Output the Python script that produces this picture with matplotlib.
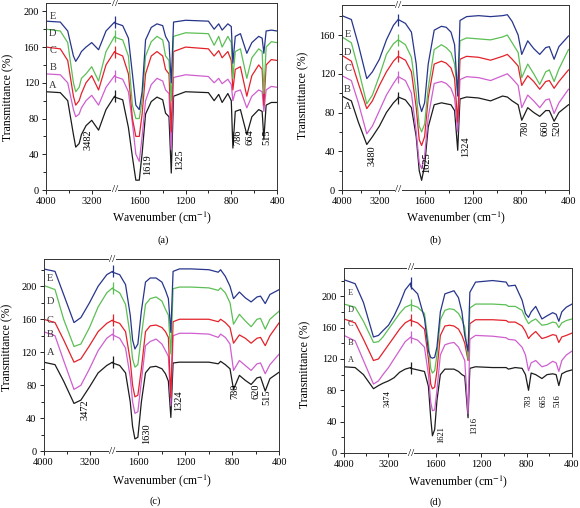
import numpy as np
import matplotlib.pyplot as plt
from matplotlib import transforms

plt.rcParams['font.family'] = 'Liberation Serif'
plt.rcParams['mathtext.fontset'] = 'stix'

names = ['A', 'B', 'C', 'D', 'E']
colors = ['#1c1c1c', '#cf5fcf', '#e3222b', '#5cbf55', '#27358c']

# ---- panel (a) ----
wn_a = [4000, 3750, 3620, 3520, 3480, 3420, 3380, 3300, 3200, 3080, 2950, 2800,
        1820, 1750, 1700, 1665, 1635, 1605, 1580, 1550, 1500, 1450, 1400, 1375, 1345, 1325, 1305,
        1200, 1000, 950, 910, 880, 830, 800, 786, 765, 720, 664, 620, 560, 530, 515, 495, 450, 400]
a_A = [110, 109, 100, 62, 48, 52, 62, 72, 78, 67, 90, 105,
       104, 101, 70, 37, 11, 11, 41, 85, 99, 104, 101, 86, 82, 19, 105,
       110, 109, 100, 107, 98, 108, 100, 47, 88, 90, 62, 82, 90, 88, 57, 95, 98, 98]
a_B = [130, 129, 120, 90, 82, 85, 92, 100, 106, 95, 115, 128,
       127, 124, 110, 75, 40, 32, 60, 100, 118, 125, 122, 112, 108, 45, 126,
       129, 127, 120, 125, 119, 124, 118, 100, 110, 112, 92, 105, 112, 110, 88, 112, 116, 115]
a_C = [160, 158, 145, 105, 95, 100, 108, 120, 128, 112, 140, 155,
       154, 150, 130, 80, 60, 60, 85, 130, 150, 155, 150, 135, 130, 65, 155,
       160, 158, 150, 156, 148, 155, 145, 112, 135, 138, 105, 128, 140, 135, 95, 140, 146, 145]
a_D = [180, 178, 165, 120, 110, 115, 125, 130, 138, 122, 155, 172,
       171, 168, 150, 95, 80, 80, 100, 150, 166, 172, 168, 150, 145, 100, 172,
       176, 175, 162, 172, 160, 172, 165, 125, 155, 158, 125, 148, 158, 155, 108, 160, 166, 165]
a_E = [189, 188, 178, 150, 144, 150, 155, 160, 165, 157, 178, 188,
       187, 184, 170, 130, 95, 90, 110, 168, 182, 186, 184, 172, 165, 120, 188,
       190, 189, 180, 186, 179, 186, 183, 142, 172, 175, 153, 165, 172, 170, 153, 178, 179, 178]

# ---- panel (b) ----
wn_b = [4000, 3800, 3650, 3470, 3350, 3200, 3050, 2900, 2800,
        1820, 1760, 1710, 1670, 1645, 1625, 1600, 1570, 1520, 1460, 1420, 1380, 1350, 1324, 1305,
        1250, 1150, 1050, 950, 910, 870, 820, 790, 740, 690, 640, 590, 560, 520, 480, 400]
b_A = [97, 92, 70, 47, 55, 66, 80, 90, 95,
       96, 93, 85, 55, 20, 10, 25, 65, 88, 90, 89, 88, 82, 41, 94,
       96, 95, 92, 97, 96, 92, 88, 72, 85, 80, 76, 82, 82, 71, 80, 88]
b_B = [118, 113, 90, 58, 66, 82, 98, 110, 117,
       117, 113, 100, 60, 28, 22, 35, 75, 110, 112, 110, 105, 95, 60, 114,
       117, 116, 113, 118, 120, 115, 108, 85, 98, 92, 85, 93, 94, 79, 90, 104]
b_C = [139, 133, 110, 84, 92, 108, 122, 133, 138,
       138, 134, 122, 85, 52, 46, 55, 95, 130, 133, 131, 126, 115, 70, 135,
       138, 137, 134, 138, 140, 135, 128, 108, 118, 112, 104, 112, 113, 105, 112, 124]
b_D = [158, 152, 125, 89, 98, 118, 140, 151, 155,
       155, 150, 137, 100, 66, 60, 68, 105, 145, 150, 147, 142, 130, 100, 154,
       157, 156, 155, 158, 160, 152, 142, 116, 130, 120, 109, 122, 124, 112, 125, 145]
b_E = [180, 176, 150, 115, 122, 135, 155, 170, 176,
       176, 172, 163, 130, 90, 81, 90, 130, 165, 169, 168, 163, 150, 97, 175,
       179, 180, 179, 180, 181, 174, 160, 140, 154, 146, 140, 147, 148, 135, 148, 159]

# ---- panel (c) ----
wn_c = [4000, 3800, 3650, 3470, 3350, 3200, 3050, 2900, 2800,
        1820, 1760, 1710, 1670, 1650, 1630, 1605, 1575, 1540, 1500, 1450, 1400, 1370, 1345, 1324, 1305,
        1250, 1150, 1000, 920, 900, 860, 820, 790, 740, 690, 640, 590, 560, 520, 480, 400]
c_A = [108, 105, 85, 58, 62, 78, 95, 104, 108,
       107, 104, 95, 60, 30, 15, 17, 60, 95, 102, 103, 100, 94, 85, 41, 107,
       108, 108, 108, 106, 109, 105, 100, 75, 92, 86, 81, 89, 90, 73, 88, 96]
c_B = [145, 140, 110, 75, 80, 100, 122, 137, 142,
       141, 137, 125, 90, 60, 46, 48, 85, 128, 133, 136, 130, 122, 115, 55, 140,
       143, 143, 142, 138, 142, 138, 130, 98, 110, 104, 98, 106, 107, 94, 105, 118]
c_C = [160, 156, 135, 108, 112, 128, 145, 155, 159,
       158, 155, 145, 110, 80, 66, 68, 100, 145, 152, 153, 150, 145, 138, 65, 157,
       160, 160, 160, 157, 160, 156, 150, 131, 141, 137, 131, 137, 138, 128, 140, 156]
c_D = [201, 196, 160, 127, 130, 150, 175, 192, 198,
       197, 192, 178, 140, 112, 102, 105, 140, 178, 185, 187, 182, 172, 165, 118, 197,
       199, 199, 198, 195, 198, 192, 180, 154, 166, 158, 151, 160, 161, 148, 160, 170]
c_E = [221, 218, 190, 156, 162, 180, 200, 214, 218,
       217, 214, 202, 165, 135, 124, 130, 170, 205, 210, 210, 205, 195, 185, 144, 218,
       221, 221, 220, 217, 220, 212, 200, 185, 193, 186, 181, 187, 188, 179, 190, 196]

# ---- panel (d) ----
wn_d = [4000, 3800, 3650, 3470, 3380, 3300, 3200, 3100, 3000, 2900, 2800,
        1820, 1760, 1700, 1665, 1645, 1630, 1610, 1590, 1560, 1520, 1480, 1440, 1400, 1370, 1345, 1316, 1300,
        1250, 1100, 980, 960, 900, 840, 810, 783, 760, 720, 665, 620, 570, 540, 516, 490, 450, 400]
d_A = [110, 109, 100, 82, 86, 89, 92, 96, 103, 107, 109,
       108, 106, 104, 85, 45, 22, 30, 67, 100, 107, 107, 107, 104, 100, 98, 45, 108,
       110, 109, 109, 107, 109, 108, 100, 80, 102, 100, 95, 100, 101, 100, 86, 101, 104, 106]
d_B = [150, 143, 118, 88, 92, 100, 109, 120, 131, 142, 148,
       147, 144, 135, 100, 65, 54, 55, 80, 125, 138, 140, 141, 135, 126, 118, 50, 145,
       150, 149, 147, 145, 144, 135, 125, 105, 115, 118, 110, 112, 117, 115, 104, 118, 125, 130]
d_C = [171, 166, 145, 118, 120, 128, 138, 148, 158, 166, 170,
       169, 166, 158, 120, 88, 82, 84, 105, 150, 162, 163, 162, 158, 150, 140, 118, 165,
       170, 170, 169, 167, 167, 162, 155, 146, 150, 155, 146, 148, 151, 150, 141, 148, 150, 153]
d_D = [190, 186, 168, 141, 142, 148, 158, 168, 178, 186, 189,
       189, 186, 178, 140, 108, 102, 105, 125, 170, 182, 184, 183, 178, 170, 160, 120, 185,
       190, 190, 189, 187, 187, 182, 172, 165, 168, 171, 163, 164, 167, 166, 160, 166, 169, 171]
d_E = [221, 216, 192, 148, 150, 156, 163, 175, 190, 208, 217,
       212, 203, 172, 130, 122, 121, 122, 135, 180, 203, 205, 207, 198, 180, 150, 130, 205,
       218, 220, 218, 213, 214, 195, 178, 173, 180, 187, 171, 175, 179, 177, 168, 180, 186, 190]

# peak labels
pk_a = ['3482', '1619', '1325', '786', '664', '515']
pk_b = ['3480', '1625', '1324', '780', '660', '520']
pk_c = ['3472', '1630', '1324', '780', '620', '515']
pk_d = ['3474', '1621', '1316', '783', '665', '516']

W, H = 580, 508
LO, HI = 1820, 2800


def make_scale(c, eps=1e-3):
    p_hi = LO + (HI - LO) * eps

    def fwd(w):
        w = np.asarray(w, dtype=float)
        return np.where(w <= LO, w, np.where(w >= HI, p_hi + (w - HI) * c, LO + (w - LO) * eps))

    def inv(p):
        p = np.asarray(p, dtype=float)
        return np.where(p <= LO, p, np.where(p >= p_hi, HI + (p - p_hi) / c, LO + (p - LO) / eps))
    return fwd, inv


panels = [
    dict(px=(46, 3.3, 277, 190), wn=wn_a, ys=[a_A, a_B, a_C, a_D, a_E], c=0.5, top=209, ymax=200,
         lab_y=[117, 137, 156, 175, 194], lab_fs=7.5,
         pk=pk_a, pk_x=[3270, 1530, 1250, 742, 637, 487], pk_y=[56, 28, 34, 59, 59, 59], pk_fs=7.5,
         cap='(a)', cap_xy=(163, 240), xl_xy=(162, 218), yl_xy=(8, 97)),
    dict(px=(342, 5, 568.5, 190), wn=wn_b, ys=[b_A, b_B, b_C, b_D, b_E], c=0.39, top=191, ymax=160,
         lab_y=[86, 104, 125, 142, 161], lab_fs=7.5,
         pk=pk_b, pk_x=[3368, 1580, 1261, 761, 600, 495], pk_y=[35, 28, 45, 64, 64, 64], pk_fs=7.5,
         cap='(b)', cap_xy=(435, 240), xl_xy=(456, 218), yl_xy=(303, 95)),
    dict(px=(43.5, 259, 279.3, 451.3), wn=wn_c, ys=[c_A, c_B, c_C, c_D, c_E], c=0.49, top=233, ymax=200,
         lab_y=[120, 141, 159, 181, 209], lab_fs=7.5,
         pk=pk_c, pk_x=[3275, 1528, 1259, 777, 596, 505], pk_y=[51, 21, 61, 73, 73, 65], pk_fs=7.5,
         cap='(c)', cap_xy=(155, 501), xl_xy=(162, 481), yl_xy=(7, 347)),
    dict(px=(344, 268, 572, 453), wn=wn_d, ys=[d_A, d_B, d_C, d_D, d_E], c=0.49, top=236, ymax=200,
         lab_y=[118, 140, 164, 183, 204], lab_fs=6,
         pk=pk_d, pk_x=[3218, 1556, 1263, 787, 650, 524], pk_y=[69, 24, 35, 67, 67, 67], pk_fs=6,
         cap='(d)', cap_xy=(436, 502), xl_xy=(458, 482), yl_xy=(305, 364)),
]

fig = plt.figure(figsize=(W / 100, H / 100), dpi=100)

for p in panels:
    x0, y0, x1, y1 = p['px']
    ax = fig.add_axes([x0 / W, 1 - y1 / H, (x1 - x0) / W, (y1 - y0) / H])
    ax.set_xscale('function', functions=make_scale(p['c']))
    wn = np.array(p['wn'])
    for y, col in zip(p['ys'], colors):
        ax.plot(wn, y, color=col, lw=0.9)
        # little vertical bar where the data jumps across the break
        ax.plot(HI, y[list(wn).index(HI)], marker='|', ms=9, mew=0.9, color=col)
    ax.set_xlim(4000, 400)
    ax.set_ylim(0, p['top'])
    ax.set_xticks([4000, 3200, 1600, 1200, 800, 400])
    ax.set_xticklabels(['4000', '3200', '1600', '1200', '800', '400'])
    ax.set_xticks([3600, 1400, 1000, 600], minor=True)
    ax.set_yticks(np.arange(0, p['ymax'] + 1, 40))
    ax.set_yticks(np.arange(20, p['top'], 40), minor=True)
    ax.tick_params(labelsize=7.5, length=3, width=0.6, pad=2)
    ax.tick_params(which='minor', length=2, width=0.6)
    for s in ax.spines.values():
        s.set_linewidth(0.7)
        s.set_color('#333333')

    # break marks on the bottom and top spines
    tr = transforms.blended_transform_factory(ax.transData, ax.transAxes)
    for yy in (0, 1):
        ax.text(2300, yy, '//', transform=tr, ha='center', va='center', fontsize=8,
                bbox=dict(fc='white', ec='none', pad=0.3), clip_on=False)

    for n, ly in zip(names, p['lab_y']):
        ax.text(3880, ly, n, fontsize=p['lab_fs'], ha='center', va='center', color='#333333')
    for t, px_, py_ in zip(p['pk'], p['pk_x'], p['pk_y']):
        ax.text(px_, py_, t, rotation=90, ha='center', va='center', fontsize=p['pk_fs'])

    fig.text(p['xl_xy'][0] / W, 1 - p['xl_xy'][1] / H, r'Wavenumber (cm$^{-1}$)',
             ha='center', va='center', fontsize=8.5)
    fig.text(p['yl_xy'][0] / W, 1 - p['yl_xy'][1] / H, 'Transmittance (%)', rotation=90,
             ha='center', va='center', fontsize=8.5)
    fig.text(p['cap_xy'][0] / W, 1 - p['cap_xy'][1] / H, p['cap'], ha='center', va='center', fontsize=7.5)

fig.savefig('out.png', dpi=100)
